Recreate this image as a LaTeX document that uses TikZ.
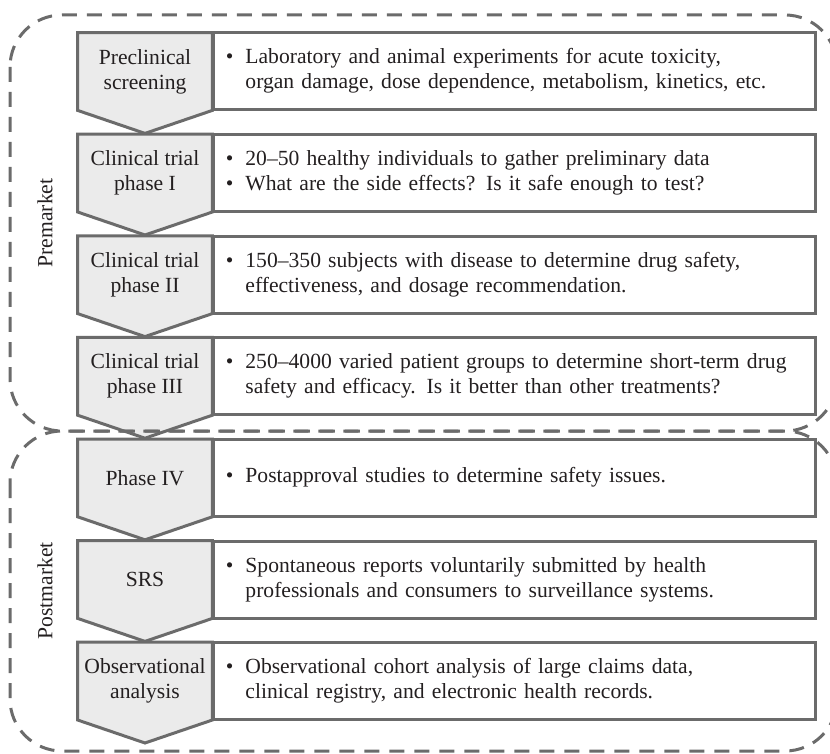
\documentclass[tikz,border=0pt]{standalone}
\usepackage{fontspec}
\setmainfont{Liberation Serif}
\usetikzlibrary{positioning}
\usetikzlibrary{backgrounds}
\definecolor{linegray}{HTML}{6B6B6B}
\definecolor{stagefill}{HTML}{EBEBEB}
\definecolor{textdark}{HTML}{231F20}

\begin{document}
\begin{tikzpicture}[x=0.5pt,y=-0.5pt,
  font=\fontsize{10.8}{12.5}\selectfont,
  stagebox/.style={minimum width=67pt,minimum height=38.5pt,inner sep=0pt,align=center,text=textdark},
  infobox/.style={draw=linegray,line width=1.5pt,minimum width=301pt,minimum height=38.5pt,
    inner xsep=6pt,inner ysep=0pt,text width=289pt,anchor=west,align=left,text=textdark},
  zone/.style={draw=linegray,line width=1.5pt,dash pattern=on 7.5pt off 5pt,rounded corners=26pt}]
\useasboundingbox (0,0) rectangle (830,754);

% dashed zones
\begin{scope}
\clip (0,0) rectangle (830,754);
\draw[zone] (10,15) rectangle (837,431);
\draw[zone] (10,431) rectangle (837,751);
\end{scope}
\node[rotate=90,text=textdark] (premarket) at (45,223) {Premarket};
\node[rotate=90,text=textdark] (postmarket) at (45,591) {Postmarket};

% stages
\foreach \stage/\info [count=\i] in {
  {Preclinical\\screening}/{\textbullet & Laboratory and animal experiments for acute toxicity,\\ & organ damage, dose dependence, metabolism, kinetics, etc.},
  {Clinical trial\\phase I}/{\textbullet & 20--50 healthy individuals to gather preliminary data\\ \textbullet & What are the side effects? Is it safe enough to test?},
  {Clinical trial\\phase II}/{\textbullet & 150--350 subjects with disease to determine drug safety,\\ & effectiveness, and dosage recommendation.},
  {Clinical trial\\phase III}/{\textbullet & 250--4000 varied patient groups to determine short-term drug\\ & safety and efficacy. Is it better than other treatments?},
  {Phase IV}/{\textbullet & Postapproval studies to determine safety issues.},
  {SRS}/{\textbullet & Spontaneous reports voluntarily submitted by health\\ & professionals and consumers to surveillance systems.},
  {Observational\\analysis}/{\textbullet & Observational cohort analysis of large claims data,\\ & clinical registry, and electronic health records.}}
{
  \node[stagebox] (stage\i) at (145,{71.5+(\i-1)*101.6}) {\stage};
  \node[infobox] (info\i) at (stage\i.east) {\begin{tabular}{@{}l@{\hspace{6pt}}l@{}}\info\end{tabular}};
  \begin{scope}[on background layer]
  \filldraw[fill=stagefill,draw=linegray,line width=1.5pt] (stage\i.north west) -- (stage\i.north east)
    -- (stage\i.south east) -- ([yshift=-11.5pt]stage\i.south) -- (stage\i.south west) -- cycle;
  \end{scope}
}
\end{tikzpicture}
\end{document}
